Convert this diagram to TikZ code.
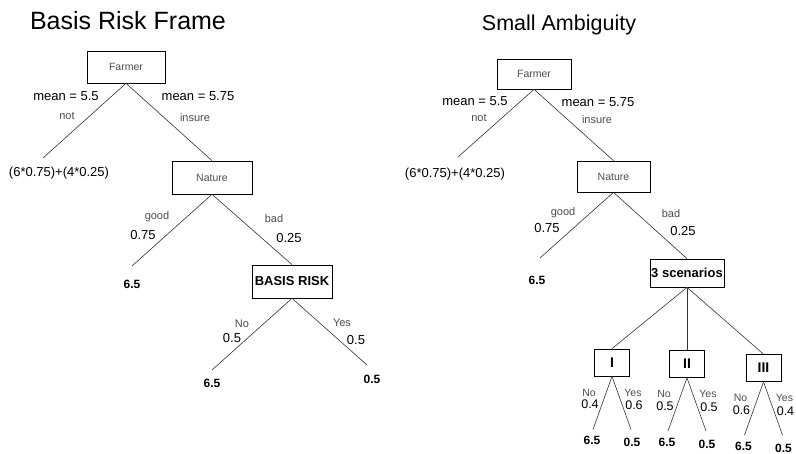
\documentclass[tikz,border=0pt]{standalone}
\usepackage{fontspec}
\setmainfont{Liberation Sans}
\definecolor{tagGray}{rgb}{0.3, 0.3, 0.3}

\begin{document}
\begin{tikzpicture}[x=1pt, y=-1pt,
		box/.style={draw, line width=0.7pt, inner sep=0pt},
		boxtag/.style={box, text=tagGray, font=\fontsize{10.5}{12}\selectfont},
		boxbold/.style={box, font=\bfseries\fontsize{13}{15}\selectfont},
		edge/.style={draw=black!80, line width=0.6pt, line cap=round},
		tag/.style={text=tagGray, font=\fontsize{11}{13}\selectfont},
		num/.style={font=\fontsize{13}{15}\selectfont},
		pay/.style={font=\bfseries\fontsize{12}{14}\selectfont}]
		\useasboundingbox (0,0) rectangle (796,454);
		% left tree
		\node [font=\fontsize{25}{28}\selectfont] (titleA) at (128,21) {Basis Risk Frame};
		\node [boxtag, minimum width=78, minimum height=32] (farmerA) at (126,67) {Farmer};
		\node [num] (meanNotA) at (66,96) {mean = 5.5};
		\node [tag] (notA) at (67,116) {not};
		\node [num] (meanInsA) at (198,96) {mean = 5.75};
		\node [tag] (insA) at (195,118) {insure};
		\coordinate (notEndA) at (43,158);
		\node [num] (notValA) at (59,173) {(6*0.75)+(4*0.25)};
		\node [boxtag, minimum width=80, minimum height=33] (natureA) at (212,177.5) {Nature};
		\draw [edge] (farmerA.south) -- (notEndA);
		\draw [edge] (farmerA.south) -- (natureA.north);
		\node [tag] (goodA) at (157,217) {good};
		\node [num] (goodPA) at (143,235) {0.75};
		\node [tag] (badA) at (274,219) {bad};
		\node [num] (badPA) at (289,238) {0.25};
		\coordinate (goodEndA) at (132,266);
		\node [pay] (goodValA) at (132,284) {6.5};
		\node [boxbold, minimum width=80, minimum height=33] (basisA) at (292,281.5) {BASIS RISK};
		\draw [edge] (natureA.south) -- (goodEndA);
		\draw [edge] (natureA.south) -- (basisA.north);
		\node [tag] (noA) at (242,324) {No};
		\node [num] (noPA) at (232,338) {0.5};
		\node [tag] (yesA) at (342,323) {Yes};
		\node [num] (yesPA) at (356,340) {0.5};
		\coordinate (noEndA) at (212,370);
		\coordinate (yesEndA) at (367,365);
		\draw [edge] (basisA.south) -- (noEndA);
		\draw [edge] (basisA.south) -- (yesEndA);
		\node [pay] (noValA) at (212,383) {6.5};
		\node [pay] (yesValA) at (372,379) {0.5};
		% right tree
		\node [font=\fontsize{21.5}{24}\selectfont] (titleB) at (559,25) {Small Ambiguity};
		\node [boxtag, minimum width=74, minimum height=30] (farmerB) at (534,74) {Farmer};
		\node [num] (meanNotB) at (475,101) {mean = 5.5};
		\node [tag] (notB) at (479,118) {not};
		\node [num] (meanInsB) at (598,102) {mean = 5.75};
		\node [tag] (insB) at (597,120) {insure};
		\coordinate (notEndB) at (458,157);
		\node [num] (notValB) at (455,174) {(6*0.75)+(4*0.25)};
		\node [boxtag, minimum width=73, minimum height=31] (natureB) at (613.5,176.5) {Nature};
		\draw [edge] (farmerB.south) -- (notEndB);
		\draw [edge] (farmerB.south) -- (natureB.north);
		\node [tag] (goodB) at (563,213) {good};
		\node [num] (goodPB) at (547,228) {0.75};
		\node [tag] (badB) at (671,214) {bad};
		\node [num] (badPB) at (683,231) {0.25};
		\coordinate (goodEndB) at (540,258);
		\node [pay] (goodValB) at (537,280) {6.5};
		\node [boxbold, minimum width=74, minimum height=28] (scenB) at (687,273) {3 scenarios};
		\draw [edge] (natureB.south) -- (goodEndB);
		\draw [edge] (natureB.south) -- (scenB.north);
		\foreach \n/\lab/\x/\y/\pNo/\pYes in {1/I/612/362.5/0.4/0.6, 2/II/687/364/0.5/0.5, 3/III/763.5/368/0.6/0.4}{
			\node [boxbold, font=\bfseries\fontsize{14}{16}\selectfont, minimum width=35, minimum height=27] (sc\n) at (\x,\y) {\lab};
			\draw [edge] (scenB.south) -- (sc\n.north);
			\node [tag, font=\fontsize{10.5}{12}\selectfont] (no\n) at (\x-23,\y+30) {No};
			\node [num, font=\fontsize{12.5}{14}\selectfont] (noP\n) at (\x-22,\y+42) {\pNo};
			\node [tag, font=\fontsize{10.5}{12}\selectfont] (yes\n) at (\x+21,\y+30) {Yes};
			\node [num, font=\fontsize{12.5}{14}\selectfont] (yesP\n) at (\x+22,\y+43) {\pYes};
			\coordinate (noEnd\n) at (\x-19,\y+67);
			\coordinate (yesEnd\n) at (\x+19,\y+67);
			\draw [edge] (sc\n.south) -- (noEnd\n);
			\draw [edge] (sc\n.south) -- (yesEnd\n);
			\node [pay] (noVal\n) at (\x-20,\y+78) {6.5};
			\node [pay] (yesVal\n) at (\x+20,\y+80) {0.5};
		}
	\end{tikzpicture}
\end{document}
